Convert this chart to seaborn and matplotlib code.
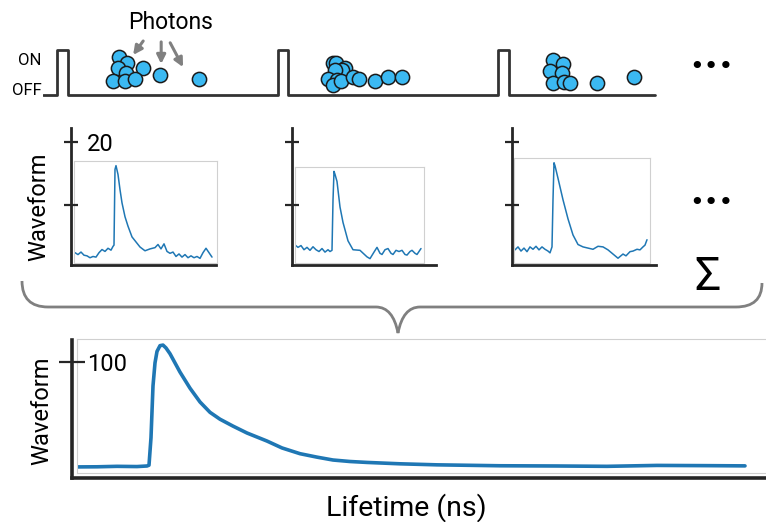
import matplotlib
matplotlib.use("Agg")
import matplotlib.pyplot as plt
from matplotlib.path import Path
from matplotlib.patches import PathPatch
import seaborn as sns

W, H = 766, 522

# laser pulse train (ns), 80 MHz -> 12.5 ns period
pulse_starts = [0.0, 12.5, 25.0]
pulse_width = 0.6
train_start, train_end = -0.8, 33.9

# photon arrival times (ns) and stacking height (fraction of ON level)
photon_t = [3.51, 3.97, 3.46, 4.88, 3.91, 3.17, 3.85, 4.42, 5.84, 8.05,
            15.65, 15.82, 16.33, 16.16, 15.76, 15.36, 15.87, 15.65, 16.10, 16.78,
            17.12, 18.03, 18.76, 19.56,
            28.12, 28.68, 27.95, 28.63, 28.12, 28.74, 29.08, 30.61, 32.71]
photon_h = [0.84, 0.71, 0.60, 0.60, 0.49, 0.31, 0.31, 0.36, 0.44, 0.36,
            0.71, 0.71, 0.60, 0.56, 0.56, 0.36, 0.33, 0.22, 0.31, 0.40,
            0.36, 0.31, 0.40, 0.40,
            0.78, 0.69, 0.53, 0.49, 0.27, 0.29, 0.27, 0.27, 0.40]

# single-pulse waveforms
wave1_t = [0.0, 0.3, 0.6, 0.9, 1.2, 1.5, 1.8, 2.1, 2.4, 2.7, 3.0, 3.3, 3.6, 3.8, 3.9,
           4.0, 4.1, 4.3, 4.5, 4.7, 5.0, 5.3, 5.7, 6.1, 6.5, 7.0, 7.5, 8.0, 8.3, 8.6,
           8.9, 9.2, 9.5, 9.8, 10.1, 10.4, 10.7, 11.0, 11.3, 11.6, 11.9, 12.2, 12.5,
           12.8, 13.1, 13.4, 13.7]
wave1_v = [2.4, 2.1, 2.5, 2.0, 1.9, 1.6, 1.8, 1.7, 2.4, 2.9, 2.6, 3.1, 2.8, 3.4, 3.6,
           15.6, 16.2, 14.8, 12.4, 10.3, 8.1, 6.6, 4.9, 4.1, 3.3, 2.7, 3.0, 3.2, 3.7, 3.0,
           3.8, 2.6, 2.3, 2.5, 1.8, 2.2, 1.7, 2.1, 1.6, 1.9, 1.6, 1.8, 1.5,
           2.4, 3.1, 2.4, 1.7]

wave2_t = [0.0, 0.3, 0.6, 0.9, 1.2, 1.5, 1.8, 2.1, 2.4, 2.7, 3.0, 3.3, 3.5, 3.7, 3.8,
           3.9, 4.0, 4.2, 4.5, 4.8, 5.3, 5.8, 6.5, 7.2, 7.5, 7.9, 8.2, 8.5, 8.7, 9.0,
           9.3, 9.6, 9.8, 10.1, 10.4, 10.7, 11.0, 11.2, 11.5, 11.7, 12.0, 12.2, 12.4, 12.6]
wave2_v = [3.3, 2.9, 3.2, 2.5, 2.9, 2.4, 3.0, 2.5, 2.2, 2.7, 2.1, 2.5, 2.2, 2.4, 10.8,
           15.7, 15.2, 14.0, 9.7, 7.1, 4.0, 2.5, 2.4, 1.3, 1.0, 2.1, 2.9, 1.9, 1.7, 2.5,
           2.7, 1.9, 1.7, 2.4, 2.2, 2.4, 1.7, 1.6, 2.2, 2.4, 1.9, 1.7, 2.2, 2.7]

wave3_t = [0.0, 0.3, 0.6, 0.9, 1.2, 1.5, 1.8, 2.1, 2.4, 2.7, 3.0, 3.3, 3.5, 3.7, 3.8,
           3.9, 4.0, 4.3, 4.8, 5.3, 5.8, 6.3, 6.8, 7.3, 7.8, 8.3, 8.8, 9.3, 9.8, 10.3,
           10.8, 11.1, 11.5, 11.8, 12.2, 12.5, 12.8, 13.0, 13.2]
wave3_v = [2.4, 2.9, 2.2, 2.7, 2.1, 2.9, 2.5, 3.0, 2.4, 2.9, 2.5, 2.2, 1.9, 2.9, 10.8,
           17.0, 16.5, 14.4, 10.8, 7.6, 4.9, 3.3, 2.9, 2.7, 2.5, 3.0, 2.9, 2.4, 1.7, 1.0,
           1.7, 1.4, 2.1, 2.2, 2.5, 2.4, 2.9, 3.2, 4.1]

# summed waveform
sum_t = [0.0, 2.0, 4.0, 6.0, 7.0, 7.2, 7.4, 7.6, 7.8, 8.0, 8.3, 8.6, 8.9, 9.3, 9.8,
         10.3, 11.3, 12.3, 13.3, 14.3, 15.6, 17.0, 19.0, 20.5, 22.3, 24.0, 25.6, 27.3,
         29.0, 32.3, 36.0, 42.3, 48.0, 53.0, 58.0, 63.0, 66.8]
sum_v = [9.5, 9.6, 10.0, 9.8, 10.3, 11.0, 35.0, 80.0, 100.0, 110.0, 115.0, 115.5, 113.0,
         108.0, 100.0, 92.0, 78.0, 66.0, 57.0, 51.0, 45.0, 39.0, 32.0, 26.0, 21.0, 18.0,
         15.5, 14.2, 13.4, 12.2, 11.3, 10.5, 10.3, 10.0, 10.8, 10.6, 10.4]

small_waves = [(wave1_t, wave1_v), (wave2_t, wave2_v), (wave3_t, wave3_v)]
small_outer = [(71, 128, 216, 265), (292, 128, 436, 265), (512, 128, 656, 265)]
small_inner = [(74, 161, 217, 263), (295, 167, 424, 263), (514, 158, 650, 263)]
small_xlim = [(-0.1, 14.2), (0.0, 12.9), (-0.1, 13.5)]

LINE = "#1f77b4"
DARK = "#262626"
PHOTON = "#3bb9f2"

sns.set_style("white")
plt.rcParams["font.family"] = ["Roboto", "DejaVu Sans"]
plt.rcParams["text.color"] = "black"
plt.rcParams["ytick.labelcolor"] = "black"

fig = plt.figure(figsize=(W / 100, H / 100), dpi=100)


def px_axes(left, top, right, bottom):
    return fig.add_axes([left / W, 1 - bottom / H, (right - left) / W, (bottom - top) / H])


# brace joining the single pulses to the sum
over = px_axes(0, 0, W, H)
over.set_xlim(0, W)
over.set_ylim(H, 0)
over.axis("off")
verts = [(22, 281), (22, 307), (48, 307), (376, 307), (393, 307), (398, 333),
         (403, 307), (420, 307), (736, 307), (762, 307), (762, 283)]
codes = [Path.MOVETO, Path.CURVE3, Path.CURVE3, Path.LINETO, Path.CURVE3, Path.CURVE3,
         Path.CURVE3, Path.CURVE3, Path.LINETO, Path.CURVE3, Path.CURVE3]
over.add_patch(PathPatch(Path(verts, codes), fill=False, edgecolor="#808080", lw=2.0))

# top: pulse train + photons
top = px_axes(43, 0, W, 110)
xs, ys = [train_start], [0]
for s in pulse_starts:
    xs += [s, s, s + pulse_width, s + pulse_width]
    ys += [0, 1, 1, 0]
xs.append(train_end)
ys.append(0)
sns.lineplot(x=xs, y=ys, sort=False, estimator=None, color="#333333", lw=2.0, ax=top)
sns.scatterplot(x=photon_t, y=photon_h, s=105, color=PHOTON, edgecolor="#1a1a1a",
                linewidth=1.1, zorder=3, ax=top)
top.set_xlim(-0.8, 40.19)
top.set_ylim(-0.333, 2.111)
top.set_xticks([])
top.set_yticks([0.13, 0.8], ["OFF", "ON"], fontsize=12)
top.tick_params(axis="y", length=0, pad=1)
top.patch.set_alpha(0)
sns.despine(ax=top, left=True, bottom=True)
top.text(6.46, 1.62, "Photons", fontsize=16.5, ha="center", va="center")
for start, end in [((4.88, 1.20), (4.31, 0.89)), ((5.90, 1.18), (5.90, 0.69)),
                   ((6.41, 1.16), (7.14, 0.62))]:
    top.annotate("", xy=end, xytext=start,
                 arrowprops=dict(arrowstyle="-|>", color="#808080", lw=2.2,
                                 mutation_scale=13, shrinkA=0, shrinkB=0))

# middle: single pulse waveforms
for i, ((t, v), ob, ib, xl) in enumerate(zip(small_waves, small_outer, small_inner, small_xlim)):
    inner = px_axes(*ib)
    sns.lineplot(x=t, y=v, estimator=None, color=LINE, lw=1.1, ax=inner)
    inner.set_xlim(*xl)
    inner.set_xticks([])
    inner.set_yticks([])
    inner.patch.set_alpha(0)
    for sp in inner.spines.values():
        sp.set_color("#d0d0d0")
        sp.set_linewidth(0.8)

    outer = px_axes(*ob)
    outer.set_ylim(0.5, 22.2)
    outer.set_xticks([])
    outer.set_yticks([10, 20], ["", "20" if i == 0 else ""], fontsize=17)
    outer.tick_params(axis="y", left=True, direction="inout", length=9.4, width=1.6,
                      color=DARK, pad=-16.2)
    for lbl in outer.get_yticklabels():
        lbl.set_horizontalalignment("left")
    outer.patch.set_alpha(0)
    sns.despine(ax=outer)
    for side in ["left", "bottom"]:
        outer.spines[side].set_linewidth(2.0)
        outer.spines[side].set_color(DARK)

# bottom: summed waveform
big_inner = px_axes(77, 339, 782, 473)
sns.lineplot(x=sum_t, y=sum_v, estimator=None, color=LINE, lw=2.6, ax=big_inner)
big_inner.set_xlim(0, 70.5)
big_inner.set_xticks([])
big_inner.set_yticks([])
big_inner.patch.set_alpha(0)
for sp in big_inner.spines.values():
    sp.set_color("#d0d0d0")
    sp.set_linewidth(0.8)

big = px_axes(72, 340, 772, 478)
big.set_ylim(0, 119)
big.set_xticks([])
big.set_yticks([100], ["100"], fontsize=17)
big.tick_params(axis="y", left=True, direction="inout", length=18.7, width=1.6,
                color=DARK, pad=-20.2)
for lbl in big.get_yticklabels():
    lbl.set_horizontalalignment("left")
big.patch.set_alpha(0)
sns.despine(ax=big)
for side in ["left", "bottom"]:
    big.spines[side].set_linewidth(2.6)
    big.spines[side].set_color(DARK)

# labels and decorations
fig.text(39 / W, 1 - 207 / H, "Waveform", rotation=90, fontsize=17, ha="center", va="center")
fig.text(42 / W, 1 - 411 / H, "Waveform", rotation=90, fontsize=17, ha="center", va="center")
fig.text(406 / W, 1 - 508 / H, "Lifetime (ns)", fontsize=20.5, ha="center", va="center")
for y in [67, 203]:
    fig.text(711 / W, 1 - y / H, "•••", family="DejaVu Sans", fontsize=18,
             ha="center", va="center")
fig.text(708 / W, 1 - 277 / H, "Σ", fontsize=33, ha="center", va="center")

fig.savefig("out.png", dpi=100)
